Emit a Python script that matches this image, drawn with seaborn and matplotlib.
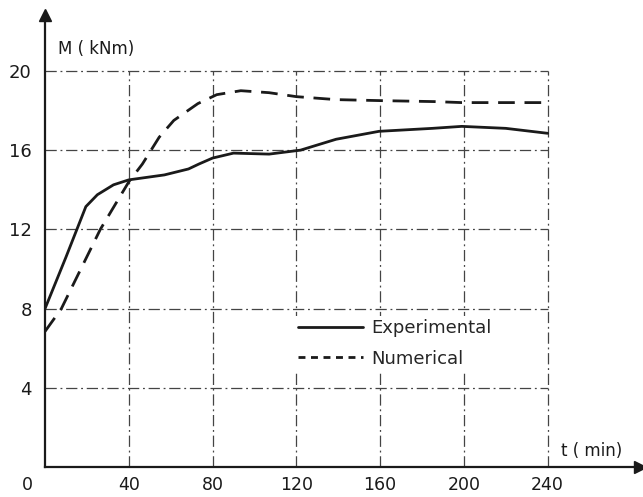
import matplotlib
matplotlib.use("Agg")
import matplotlib.pyplot as plt
import matplotlib.transforms as mtransforms
import seaborn as sns
import pandas as pd
import numpy as np

# values
t_exp = [0, 10, 19.5, 25, 32.7, 40, 57, 68.5, 73.5, 80, 90, 107, 122, 139, 159.5, 185, 199, 220, 240]
m_exp = [8, 10.6, 13.15, 13.75, 14.25, 14.5, 14.75, 15.05, 15.3, 15.6, 15.85, 15.8, 16.0, 16.55, 16.95, 17.1, 17.2, 17.1, 16.85]

t_num = [0, 7.8, 26.4, 40, 46.5, 54.5, 61.5, 73, 82, 93.5, 107, 120, 139, 160, 186, 199, 240]
m_num = [6.85, 8.0, 12.0, 14.4, 15.3, 16.65, 17.5, 18.35, 18.8, 19.0, 18.9, 18.7, 18.55, 18.5, 18.45, 18.4, 18.4]

x_ticks = [0, 40, 80, 120, 160, 200, 240]
y_ticks = [4, 8, 12, 16, 20]

df = pd.concat([
    pd.DataFrame({"t": t_exp, "M": m_exp, "kind": "Experimental"}),
    pd.DataFrame({"t": t_num, "M": m_num, "kind": "Numerical"}),
])

sns.set_style("white")
plt.rcParams["font.family"] = ["DejaVu Sans"]

fig = plt.figure(figsize=(6.43, 4.97), dpi=100)
ax = fig.add_axes([0.070, 0.060, 0.925, 0.909])

# dash-dot grid, like the drawing
ink = "#1a1a1a"
grid_ls = (0, (9, 3, 1.5, 3))
ax.hlines(y_ticks, 0, x_ticks[-1], colors="#444444", linestyles=[grid_ls], lw=0.9, zorder=1)
ax.vlines(x_ticks[1:], 0, y_ticks[-1], colors="#444444", linestyles=[grid_ls], lw=0.9, zorder=1)

sns.lineplot(data=df, x="t", y="M", style="kind", color=ink, lw=2.0,
             dashes={"Experimental": "", "Numerical": (6, 3.5)}, ax=ax, sort=False)

ax.set_xlim(0, 284)
ax.set_ylim(0, 22.8)
ax.set_xticks(x_ticks)
ax.set_yticks(y_ticks)
ax.tick_params(length=0, labelsize=13, colors=ink)
ax.tick_params(axis="y", pad=9.5)
ax.tick_params(axis="x", pad=6, labelsize=12.5)
lbl0 = ax.get_xticklabels()[0]
lbl0.set_transform(lbl0.get_transform() + mtransforms.ScaledTranslation(-0.18, 0, fig.dpi_scale_trans))

for s in ["top", "right"]:
    ax.spines[s].set_visible(False)
for s in ["left", "bottom"]:
    ax.spines[s].set_color(ink)
    ax.spines[s].set_linewidth(1.6)
ax.set_xlabel("")
ax.set_ylabel("")

# axis arrows
ax.plot(0, 1, "^", ms=9, color=ink, transform=ax.transAxes, clip_on=False)
ax.plot(1, 0, ">", ms=9, color=ink, transform=ax.transAxes, clip_on=False)

ax.text(0.022, 0.925, "M ( kNm)", transform=ax.transAxes, fontsize=12, color=ink, va="center")
ax.text(0.867, 0.035, "t ( min)", transform=ax.transAxes, fontsize=12, color=ink, va="center")

# legend sits in a blanked-out cell between the 8 and 4 grid lines
leg = ax.legend(loc="center left", bbox_to_anchor=(0.42, 0.274), frameon=True,
                facecolor="white", edgecolor="none", framealpha=1, fancybox=False,
                borderaxespad=0, borderpad=0.15,
                fontsize=13, handlelength=3.6, handletextpad=0.5, labelspacing=0.7)
leg.set_zorder(5)
for h in leg.get_lines():
    h.set_linewidth(2.0)
leg.get_lines()[1].set_dashes((2.5, 2))

fig.savefig("out.png", dpi=100)
